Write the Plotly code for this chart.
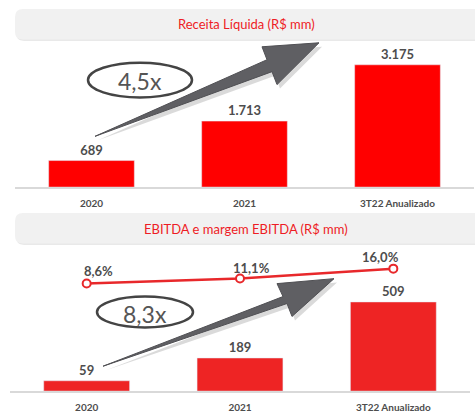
import plotly.graph_objects as go

categories = ["2020", "2021", "3T22 Anualizado"]
receita = [689, 1713, 3175]
ebitda = [59, 189, 509]
margem = [8.6, 11.1, 16.0]
mult_receita = "4,5x"
mult_ebitda = "8,3x"

W, H = 475, 413
FONT = "Lato"
GRAY = "#4D4D4D"


def px(x):
    return x / W


def py(y):
    return 1 - y / H


def br(v):
    return f"{v:,}".replace(",", ".")


def pct(v):
    return f"{v:.1f}%".replace(".", ",")


def rounded_box(x0, y0, x1, y1, r=8):
    # rounded rectangle in paper coords, pixel inputs
    X0, X1 = px(x0), px(x1)
    Y0, Y1 = py(y0), py(y1)
    rx, ry = r / W, r / H
    return (f"M{X0+rx},{Y0} L{X1-rx},{Y0} Q{X1},{Y0} {X1},{Y0-ry} "
            f"L{X1},{Y1+ry} Q{X1},{Y1} {X1-rx},{Y1} L{X0+rx},{Y1} "
            f"Q{X0},{Y1} {X0},{Y1+ry} L{X0},{Y0-ry} Q{X0},{Y0} {X0+rx},{Y0} Z")


def arrow_path(pts, dx=0, dy=0):
    return "M" + " L".join(f"{px(x+dx)},{py(y+dy)}" for x, y in pts) + " Z"


fig = go.Figure()

fig.add_trace(go.Bar(
    x=categories, y=receita, xaxis="x", yaxis="y",
    marker=dict(color="#FF0000"), width=0.56,
    text=[br(v) for v in receita], textposition="outside",
    textfont=dict(family=FONT, size=13, color=GRAY, weight="bold"),
    cliponaxis=False, showlegend=False,
))
fig.add_trace(go.Bar(
    x=categories, y=ebitda, xaxis="x2", yaxis="y2",
    marker=dict(color="#EE2424"), width=0.56,
    text=[str(v) for v in ebitda], textposition="outside",
    textfont=dict(family=FONT, size=13, color=GRAY, weight="bold"),
    cliponaxis=False, showlegend=False,
))
fig.add_trace(go.Scatter(
    x=categories, y=margem, xaxis="x2", yaxis="y3",
    mode="lines+markers",
    line=dict(color="#E8282B", width=2.5),
    marker=dict(symbol="circle", size=8, color="white",
                line=dict(color="#E8282B", width=2)),
    cliponaxis=False, showlegend=False,
))

axis_x = dict(type="category", showgrid=False, showline=True,
              linecolor="#D9D9D9", linewidth=1.5,
              ticks="", ticklabelstandoff=6,
              tickfont=dict(family=FONT, size=10, color=GRAY, weight="bold"),
              zeroline=False, fixedrange=True)
axis_y = dict(visible=False, showgrid=False, zeroline=False, fixedrange=True)

fig.update_layout(
    width=W, height=H,
    margin=dict(l=0, r=0, t=0, b=0),
    paper_bgcolor="white", plot_bgcolor="rgba(0,0,0,0)",
    font=dict(family=FONT, color=GRAY),
    xaxis=dict(axis_x, domain=[px(15), px(474)], anchor="y"),
    yaxis=dict(axis_y, domain=[py(188), py(40)], range=[0, 3824], anchor="x"),
    xaxis2=dict(axis_x, domain=[px(10), px(470)], anchor="y2"),
    yaxis2=dict(axis_y, domain=[py(393), py(248)], range=[0, 824], anchor="x2"),
    yaxis3=dict(axis_y, overlaying="y2", range=[-44.6, 26.8], anchor="x2"),
    bargap=0.44,
)

shapes = []
# header boxes
for y0, y1 in [(9, 40), (214, 245)]:
    shapes.append(dict(type="path", xref="paper", yref="paper",
                       path=rounded_box(16, y0 + 1, 482, y1 + 1),
                       fillcolor="#E2E2E2", line=dict(width=0), layer="below"))
    shapes.append(dict(type="path", xref="paper", yref="paper",
                       path=rounded_box(15, y0, 482, y1),
                       fillcolor="#F1F1F1", line=dict(width=0), layer="below"))

# growth arrows (decoration)
top_arrow = [(95, 137), (267, 60), (262, 47), (319, 43), (277, 85), (272, 72)]
bot_arrow = [(103, 368), (283, 298), (277, 285), (334, 280), (292, 318), (287, 305)]
for pts in (top_arrow, bot_arrow):
    shapes.append(dict(type="path", xref="paper", yref="paper",
                       path=arrow_path(pts, 3, 4),
                       fillcolor="rgba(150,150,150,0.35)", line=dict(width=0)))
    shapes.append(dict(type="path", xref="paper", yref="paper",
                       path=arrow_path(pts),
                       fillcolor="#5F5F63", line=dict(color="#505054", width=1)))

# ellipses around multipliers
for (x0, y0, x1, y1) in [(88, 63, 192, 98), (97, 298, 193, 329)]:
    shapes.append(dict(type="circle", xref="paper", yref="paper",
                       x0=px(x0), x1=px(x1), y0=py(y1), y1=py(y0),
                       line=dict(color="#444444", width=2.5)))
fig.update_layout(shapes=shapes)

annotations = [
    dict(text="Receita Líquida (R$ mm)", x=px(246), y=py(24.5)),
    dict(text="EBITDA e margem EBITDA (R$ mm)", x=px(246), y=py(230)),
]
annotations = [dict(a, xref="paper", yref="paper", showarrow=False,
                    xanchor="center", yanchor="middle",
                    font=dict(family=FONT, size=13, color="#EE1C25"))
               for a in annotations]
for txt, (x, y) in [(mult_receita, (140, 81)), (mult_ebitda, (145, 316))]:
    annotations.append(dict(text=txt, x=px(x), y=py(y), xref="paper", yref="paper",
                            showarrow=False, xanchor="center", yanchor="middle",
                            font=dict(family=FONT, size=23, color="#555555")))
# margin labels next to the line points
for i, (v, dx, dy) in enumerate(zip(margem, [12, 11, -13], [13, 11, 12])):
    annotations.append(dict(text=pct(v), x=i, y=v, xref="x2", yref="y3",
                            showarrow=False, xshift=dx, yshift=dy,
                            xanchor="center", yanchor="middle",
                            font=dict(family=FONT, size=13, color=GRAY, weight="bold")))
fig.update_layout(annotations=annotations)

fig.write_html("out.html", config={"displayModeBar": False},
               post_script="document.body.style.margin='0';")
